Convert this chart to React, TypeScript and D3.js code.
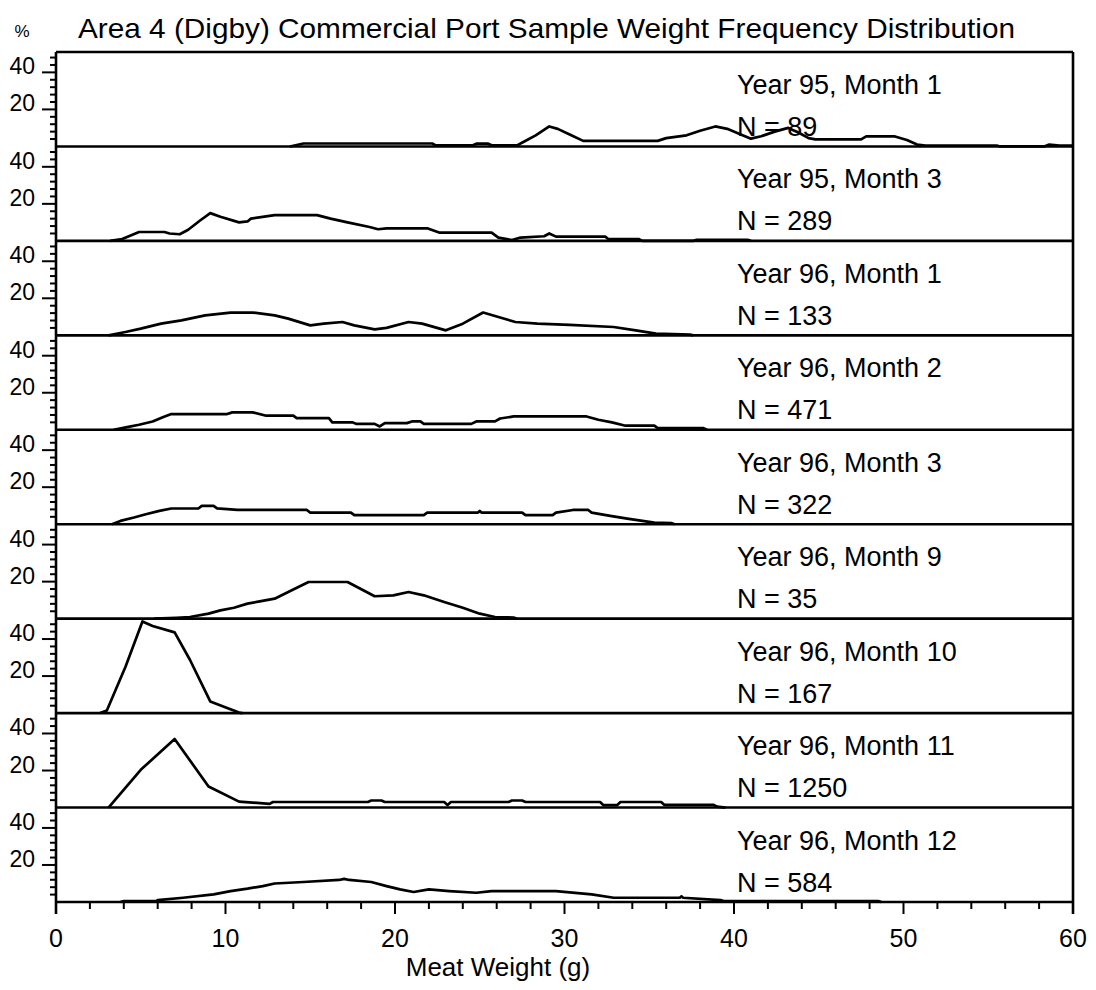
import React from "react";
import * as d3 from "d3";

const title = "Area 4 (Digby) Commercial Port Sample Weight Frequency Distribution";
const xLabel = "Meat Weight (g)";
const yUnit = "%";

const panelLabels = [
  "Year 95, Month 1",
  "Year 95, Month 3",
  "Year 96, Month 1",
  "Year 96, Month 2",
  "Year 96, Month 3",
  "Year 96, Month 9",
  "Year 96, Month 10",
  "Year 96, Month 11",
  "Year 96, Month 12",
];
const sampleSizes = [89, 289, 133, 471, 322, 35, 167, 1250, 584];

const xTicksMajor = [0, 10, 20, 30, 40, 50, 60];
const yTickLabels = [20, 40];

// [meat weight (g), percent]
const y95m1: [number, number][] = [[13.8,0],[14.2,0.8],[14.6,1.6],[22.2,1.6],[22.4,0.6],[24.6,0.6],[24.8,1.5],[25.5,1.5],[25.7,0.6],[27.2,0.6],[27.6,2.5],[28.3,6],[29.1,10.8],[29.6,9.5],[30.4,6],[31.1,3],[35.5,3],[36,4.5],[37.2,6],[38,8.5],[38.9,10.8],[39.6,9.5],[40.4,6.5],[41,4.2],[41.6,5.5],[42.4,8],[43.2,10],[43.8,7.5],[44.4,4.5],[44.8,3.8],[47.5,3.8],[47.8,5.4],[49.5,5.4],[50.2,3.5],[50.8,1],[51.3,0.5],[55.5,0.5],[55.7,0],[58.3,0],[58.6,1],[59.2,0.5],[60,0.5]];
const y95m3: [number, number][] = [[3.2,0],[3.9,1],[4.3,2.5],[4.9,4.8],[6.4,4.8],[6.7,4],[7.3,3.6],[7.8,6],[8.5,11],[9.1,15],[9.7,13],[10.8,10],[11.3,10.5],[11.5,12],[12.9,13.9],[15.4,13.9],[16.2,12],[17.2,10],[18.5,7.5],[19,6.3],[19.5,6.8],[21.9,6.8],[22.6,4.5],[25.7,4.5],[26.1,1.8],[26.9,0.5],[27.4,1.8],[28.8,2.5],[29.1,4],[29.5,2.3],[32.4,2.3],[32.6,0.9],[34.4,0.9],[34.6,0],[37.6,0],[37.8,0.6],[40.8,0.6],[41,0]];
const y96m1: [number, number][] = [[3.1,0],[4.1,1.8],[5,3.6],[6.2,6.3],[7.4,8.1],[8.8,10.8],[10.3,12.3],[11.6,12.3],[12.9,10.8],[13.7,9],[15,5.4],[15.8,6.3],[16.9,7.2],[17.6,5.4],[18.8,3.2],[19.5,4],[20.8,7.2],[21.6,6.3],[23,2.7],[24,6.3],[25.2,12.3],[26.1,9.9],[27.1,7.2],[28.4,6.3],[30.3,5.7],[32.9,4.5],[34.2,2.7],[35.4,0.9],[37.4,0.4],[37.6,0]];
const y96m2: [number, number][] = [[3.4,0],[4.2,1.4],[4.9,2.7],[5.7,4.5],[6.3,6.8],[6.8,8.5],[10.1,8.5],[10.4,9.4],[11.6,9.4],[12.4,7.6],[14,7.6],[14.2,6.3],[16.1,6.3],[16.3,4],[17.5,4],[17.7,3.2],[18.8,3.2],[19.1,1.8],[19.4,3.6],[20.7,3.6],[21,4.5],[21.5,4.5],[21.7,3.2],[24.5,3.2],[24.8,4.5],[25.9,4.5],[26.2,6.1],[27,7.2],[31.3,7.2],[32,5.4],[32.8,4],[33.6,2.2],[35.3,2.2],[35.5,0.9],[38.2,0.9],[38.4,0]];
const y96m3: [number, number][] = [[3.3,0],[3.8,1.8],[4.6,3.6],[5.3,5.4],[6.1,7.2],[6.8,8.5],[8.4,8.5],[8.6,9.9],[9.3,9.9],[9.5,8.6],[10.7,7.7],[14.8,7.7],[15,6.3],[17.4,6.3],[17.6,4.9],[21.7,4.9],[21.9,6.3],[24.9,6.3],[25,7.2],[25.1,6.3],[27.5,6.3],[27.7,4.9],[29.3,4.9],[29.5,6.3],[30.5,7.7],[31.4,7.7],[31.6,6.3],[32.7,4.5],[33.7,3],[35.3,0.9],[36.3,0.6],[36.5,0]];
const y96m9: [number, number][] = [[5.8,0],[7.1,0.5],[7.9,0.9],[9,2.7],[9.7,4.5],[10.5,5.9],[11.3,8.1],[12.1,9.5],[12.9,10.8],[13.7,14.4],[14.9,19.8],[17.2,19.8],[18.8,12.1],[19.9,12.6],[20.8,14.4],[21.7,12.6],[22.9,9],[24,5.9],[25,2.7],[25.9,0.9],[27,0.6],[27.2,0]];
const y96m10: [number, number][] = [[2.6,0],[3,1.4],[4.1,25],[5.1,49.5],[5.7,47],[7,43.6],[7.9,28.8],[9.1,6.3],[10.1,2.7],[10.8,0.3],[11,0]];
const y96m11: [number, number][] = [[3.1,0],[3.4,3.2],[5,20.4],[7,37],[9,11.4],[10.8,3.2],[12.6,2],[12.8,3],[18.4,3],[18.6,3.8],[19.2,3.8],[19.4,3],[22.9,3],[23.1,1.4],[23.3,3],[26.7,3],[26.9,3.8],[27.5,3.8],[27.7,3],[32.1,3],[32.3,1.3],[33.1,1.3],[33.3,3],[35.7,3],[35.9,1.4],[38.8,1.4],[39,0.5],[39.5,0]];
const y96m12: [number, number][] = [[3.8,0],[4,0.5],[5.9,0.5],[6,1],[7.5,2.3],[9.3,4.1],[10.3,5.9],[11.3,7.2],[12.2,8.6],[12.9,10],[14.6,10.8],[16.7,11.9],[17,12.5],[17.3,11.9],[18.6,10.8],[19.5,8.6],[20.3,6.8],[21.1,5.4],[22,6.8],[23.2,5.9],[24.8,5],[25.7,5.9],[29.5,5.9],[31.6,4.1],[32.9,2.3],[36.8,2.3],[36.9,3],[37,2.3],[39.2,1],[39.4,0.5],[48.5,0.5],[48.7,0]];

const series = [y95m1, y95m3, y96m1, y96m2, y96m3, y96m9, y96m10, y96m11, y96m12];

const W = 1096;
const H = 990;
const left = 56;
const right = 1073;
const top = 52;
const bottom = 902;
const panelH = (bottom - top) / series.length;
const font = "'Liberation Sans', Arial, sans-serif";

export default function App() {
  const x = d3.scaleLinear().domain([0, 60]).range([left, right]);
  const y = d3.scaleLinear().domain([0, 51]).range([panelH, 0]);
  const line = d3
    .line<[number, number]>()
    .x((d) => x(d[0]))
    .y((d) => y(d[1]))
    .curve(d3.curveLinear);
  const yMinor = d3.range(4, 50, 4);
  const xMinor = d3.range(0, 61, 2);

  return (
    <svg
      width={W}
      height={H}
      viewBox={`0 0 ${W} ${H}`}
      style={{ position: "absolute", left: 0, top: 0, background: "#fff" }}
      fontFamily={font}
    >
      <rect x={0} y={0} width={W} height={H} fill="#fff" />
      <text x={78} y={38} fontSize={28} textLength={937} lengthAdjust="spacingAndGlyphs" fill="#000">
        {title}
      </text>
      <text x={22} y={37} fontSize={17} textAnchor="middle" fill="#000">
        {yUnit}
      </text>

      {series.map((data, i) => (
        <g key={i} transform={`translate(0,${top + i * panelH})`}>
          <path d={line(data) || ""} fill="none" stroke="#000" strokeWidth={2.7} strokeLinejoin="round" />
          <line x1={left} x2={right} y1={y(0)} y2={y(0)} stroke="#000" strokeWidth={2.6} />
          {yMinor.map((t) => (
            <line
              key={t}
              x1={left - (yTickLabels.includes(t) ? 14 : 6)}
              x2={left}
              y1={y(t)}
              y2={y(t)}
              stroke="#000"
              strokeWidth={2}
            />
          ))}
          {yTickLabels.map((t) => (
            <text key={t} x={35} y={y(t) + 2} fontSize={23} textAnchor="end" fill="#000">
              {t}
            </text>
          ))}
          <text x={737} y={42} fontSize={27} fill="#000">
            {panelLabels[i]}
          </text>
          <text x={737} y={84} fontSize={27} fill="#000">
            {`N = ${sampleSizes[i]}`}
          </text>
        </g>
      ))}

      <line x1={left} x2={right} y1={top} y2={top} stroke="#000" strokeWidth={2.6} />
      <line x1={left} x2={left} y1={top} y2={bottom + 12} stroke="#000" strokeWidth={2.6} />
      <line x1={right} x2={right} y1={top} y2={bottom + 12} stroke="#000" strokeWidth={2.6} />

      {xMinor.map((t) => (
        <line
          key={t}
          x1={x(t)}
          x2={x(t)}
          y1={bottom}
          y2={bottom + (t % 10 === 0 ? 12 : 7)}
          stroke="#000"
          strokeWidth={2}
        />
      ))}
      {xTicksMajor.map((t) => (
        <text key={t} x={x(t)} y={947} fontSize={25} textAnchor="middle" fill="#000">
          {t}
        </text>
      ))}
      <text x={498} y={976} fontSize={26} textAnchor="middle" fill="#000">
        {xLabel}
      </text>
    </svg>
  );
}
